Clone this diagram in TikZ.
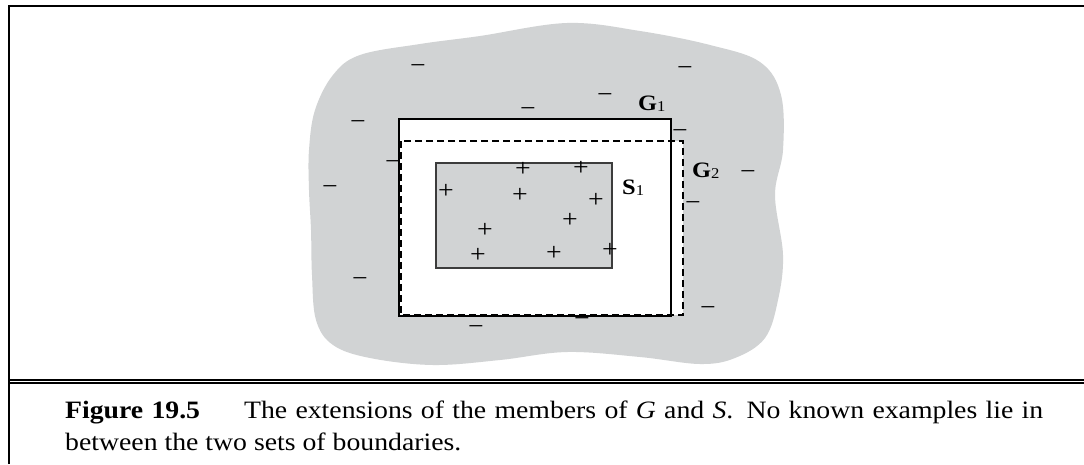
\documentclass[tikz,border=0pt]{standalone}
\usepackage{fontspec}
\setmainfont{Liberation Serif}[FakeStretch=1.11]
\definecolor{blobgray}{RGB}{209,211,212}
\definecolor{sline}{RGB}{60,60,60}
\begin{document}
\begin{tikzpicture}[x=1pt,y=-1pt,
  sign/.style={font=\fontsize{25}{25}\selectfont, inner sep=0pt, anchor=base},
  glabel/.style={font=\fontsize{22}{24}\selectfont, inner sep=0pt, anchor=base west},
  frameline/.style={line width=1.8pt},
  gbox/.style={line width=2.4pt},
  capfont/.style={font=\fontsize{25}{32}\selectfont, inner sep=0pt, anchor=base west}
  ]
\useasboundingbox (0,0) rectangle (1084,464);
\fill[white] (0,0) rectangle (1084,464);
% frame
\draw[frameline] (8.7,464) -- (8.7,5.7) -- (1084,5.7);
\draw[line width=2pt] (8.7,379.9) -- (1084,379.9);
\draw[line width=1.5pt] (8.7,382.8) -- (1084,382.8);
% gray region
\fill[blobgray] plot[smooth cycle, tension=0.6] coordinates {
  (567,23) (640,31) (710,45) (760,62) (781,95) (783,150) (775,195)
  (783,255) (778,300) (765,338) (735,358) (700,364) (640,357)
  (567,352) (500,360) (433,365) (370,358) (333,345) (316,320)
  (312,275) (311,230) (309,190) (309,150) (315,110) (333,75)
  (360,55) (420,44) (480,36)};
% white interior of G1 and G2
\fill[white] (399,119) rectangle (671,316);
\fill[white] (401,141) rectangle (683,315);
% S1
\filldraw[fill=blobgray, draw=sline, line width=1.1pt] (436,163) rectangle (612,268);
% G1 and G2
\draw[gbox] (399,119) rectangle (671,316);
\draw[gbox, dash pattern=on 7pt off 4pt] (401,141) rectangle (683,315);
% labels
\node[glabel] (g1) at (638,110) {\textbf{G}\raisebox{-1pt}{\fontsize{15}{15}\selectfont 1}};
\node[glabel] (g2) at (692,177) {\textbf{G}\raisebox{-1pt}{\fontsize{15}{15}\selectfont 2}};
\node[glabel] (s1) at (622,194) {\textbf{S}\raisebox{-1pt}{\fontsize{15}{15}\selectfont 1}};
% minus signs
\foreach \px/\py [count=\i] in {418/67,685/69,605/96,528/110,358/123,680/132,393/163,748/173,330/188,693/204,360/280,708/309,476/328,582/320}
  \node[sign] (m\i) at (\px,\py+6.3) {−};
% plus signs
\foreach \px/\py [count=\i] in {523/170,581/169,446/192,520/196,596/201,570/221,485/231,478/256,554/254,610/251}
  \node[sign] (p\i) at (\px,\py+6.3) {+};
% caption
\node[capfont] (cap1) at (65,418) {\makebox[978pt][s]{\textbf{Figure 19.5}\hspace{44pt}The extensions of the members of \textit{G} and \textit{S}\null. No known examples lie in}};
\node[capfont] (cap2) at (65,450) {between the two sets of boundaries.};
\end{tikzpicture}
\end{document}
